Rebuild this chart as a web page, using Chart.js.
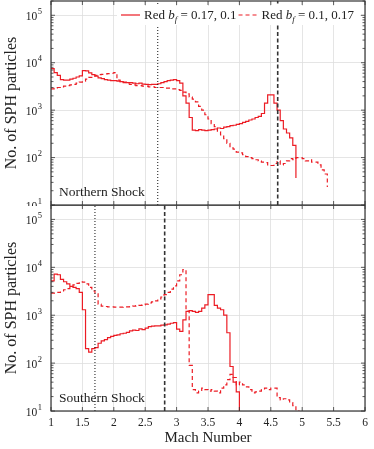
<!DOCTYPE html>
<html>
<head>
<meta charset="utf-8">
<script src="https://cdn.jsdelivr.net/npm/chart.js@4.4.0/dist/chart.umd.min.js"></script>
<style>
  body { margin: 0; background: #fff; }
  #wrap { position: relative; width: 374px; height: 449px; }
  .panel { position: absolute; left: 0; width: 374px; }
  #north { top: 0; height: 206px; }
  #south { top: 205px; height: 244px; }
</style>
</head>
<body>
<div id="wrap">
  <div class="panel" id="north"><canvas id="northChart"></canvas></div>
  <div class="panel" id="south"><canvas id="southChart"></canvas></div>
</div>
<script>
// left edges of the Mach number bins
const machEdges = [
  1.00, 1.05, 1.10, 1.15, 1.20, 1.25, 1.30, 1.35, 1.40, 1.45,
  1.50, 1.55, 1.60, 1.65, 1.70, 1.75, 1.80, 1.85, 1.90, 1.95,
  2.00, 2.05, 2.10, 2.15, 2.20, 2.25, 2.30, 2.35, 2.40, 2.45,
  2.50, 2.55, 2.60, 2.65, 2.70, 2.75, 2.80, 2.85, 2.90, 2.95,
  3.00, 3.05, 3.10, 3.15, 3.20, 3.25, 3.30, 3.35, 3.40, 3.45,
  3.50, 3.55, 3.60, 3.65, 3.70, 3.75, 3.80, 3.85, 3.90, 3.95,
  4.00, 4.05, 4.10, 4.15, 4.20, 4.25, 4.30, 4.35, 4.40, 4.45,
  4.50, 4.55, 4.60, 4.65, 4.70, 4.75, 4.80, 4.85, 4.90, 4.95,
  5.00, 5.05, 5.10, 5.15, 5.20, 5.25, 5.30, 5.35, 5.40, 5.45
];

// Northern shock, b_f = 0.17, 0.1 (solid)
const northSolid = [
  7500, 6200, 5400, 4400, 4300, 4300, 4500, 4700, 5000, 5300,
  6800, 6700, 6100, 5600, 5200, 4800, 4600, 4400, 4300, 4200,
  4200, 4100, 4000, 3900, 3800, 3800, 3700, 3600, 3700, 3550,
  3500, 3450, 3500, 3500, 3600, 3800, 4000, 4200, 4300, 4400,
  4200, 3700, 2000, 1400, 700, 380, 370, 390, 380, 370,
  380, 390, 400, 420, 410, 440, 450, 470, 480, 500,
  520, 550, 580, 620, 650, 700, 740, 850, 1400, 2100,
  2100, 1400, 1000, 600, 400, 330, 260, 180, 37
];

// Northern shock, b_f = 0.1, 0.17 (dashed)
const northDashed = [
  2800, 2900, 3000, 3100, 3200, 3300, 3400, 3500, 3700, 3900,
  4100, 4500, 4900, 5200, 5400, 5600, 5700, 5800, 5900, 6000,
  6200, 4300, 4000, 3800, 3600, 3500, 3400, 3300, 3300, 3200,
  3200, 3100, 3100, 3000, 3000, 3000, 2900, 2900, 2800, 2800,
  2700, 2600, 2400, 2200, 1900, 1700, 1500, 1200, 1000, 800,
  650, 520, 450, 350, 300, 250, 200, 160, 150, 130,
  125, 115, 105, 100, 95, 90, 85, 80, 78, 70,
  68, 75, 85, 70, 75, 85, 95, 90, 100, 100,
  95, 85, 90, 80, 80, 70, 55, 45, 24
];

// Southern shock, b_f = 0.17, 0.1 (solid)
const southSolid = [
  5200, 7200, 7000, 5600, 5000, 4500, 4000, 3800, 3600, 3000,
  1300, 200, 170, 200, 210, 260, 290, 310, 340, 360,
  380, 390, 410, 420, 440, 470, 490, 480, 520, 500,
  540, 580, 590, 600, 600, 620, 630, 650, 680, 700,
  510, 460, 800, 1200, 1250, 1200, 1150, 1200, 1400, 1650,
  2700, 2700, 1600, 1400, 1300, 1000, 430, 85, 40, 25,
  5
];

// Southern shock, b_f = 0.1, 0.17 (dashed)
const southDashed = [
  2900, 2900, 3000, 3200, 3400, 3600, 4000, 4300, 4600, 5000,
  4900, 4500, 3800, 3200, 2800, 1700, 1550, 1520, 1500, 1500,
  1480, 1480, 1480, 1500, 1500, 1520, 1550, 1580, 1600, 1650,
  1700, 1800, 1900, 2000, 2200, 2400, 2700, 3000, 3500, 4100,
  5200, 7000, 9000, 1200, 90, 28, 24, 26, 30, 28,
  26, 28, 26, 24, 30, 35, 45, 58, 50, 35,
  40, 35, 32, 28, 24, 25, 26, 28, 30, 28,
  30, 30, 19, 17, 18, 17, 15, 13, 10, 8
];

// reference Mach numbers (vertical lines)
const northMarks = { dotted: 2.7, dashed: 4.61 };
const southMarks = { dotted: 1.7, dashed: 2.81 };

const legendValues = ['0.17, 0.1', '0.1, 0.17'];
const yTicks = [10, 100, 1000, 10000, 100000];
const yExponents = ['1', '2', '3', '4', '5'];
const yMin = 10, yMax = 2e5;

const red = 'rgb(236, 28, 36)';
const serif = '"Liberation Serif", "DejaVu Serif", serif';

function toPoints(counts) {
    return counts.map((c, i) => ({ x: machEdges[i], y: c }));
}

function vline(x) {
    return [{ x: x, y: yMin }, { x: x, y: yMax }];
}

// frame, inside tick marks, 10^n labels, panel caption and (optionally) legend
const panelPlugin = {
    id: 'panel',
    afterDatasetsDraw(chart, args, opts) {
        const ctx = chart.ctx;
        const { left, right, top, bottom } = chart.chartArea;
        const xs = chart.scales.x, ys = chart.scales.y;
        ctx.save();
        ctx.strokeStyle = '#333';
        ctx.lineWidth = 0.8;
        ctx.beginPath();
        // major + minor y ticks on both sides
        yTicks.forEach(d => {
            for (let k = 1; k <= 9; k++) {
                const v = d * k;
                if (v > yMax) break;
                const py = ys.getPixelForValue(v);
                const len = k === 1 ? 4 : 2.5;
                ctx.moveTo(left, py); ctx.lineTo(left + len, py);
                ctx.moveTo(right, py); ctx.lineTo(right - len, py);
            }
        });
        // x ticks top and bottom
        xs.ticks.forEach(t => {
            const px = xs.getPixelForValue(t.value);
            ctx.moveTo(px, bottom); ctx.lineTo(px, bottom - 4);
            ctx.moveTo(px, top); ctx.lineTo(px, top + 4);
        });
        ctx.stroke();

        ctx.lineWidth = 1.2;
        ctx.strokeRect(left, top, right - left, bottom - top);

        // y tick labels as 10 with a raised exponent
        ctx.fillStyle = '#222';
        ctx.textAlign = 'right';
        ctx.textBaseline = 'alphabetic';
        ys.ticks.forEach(t => {
            const py = ys.getPixelForValue(t.value);
            const exp = yExponents[yTicks.indexOf(t.value)];
            ctx.font = '8.5px ' + serif;
            const ew = ctx.measureText(exp).width;
            ctx.fillText(exp, left - 9, py - 1.5);
            ctx.font = '11.5px ' + serif;
            ctx.fillText('10', left - 9.5 - ew, py + 4.5);
        });
        ctx.textAlign = 'left';

        ctx.font = '13.5px ' + serif;
        ctx.fillText(opts.caption, left + 8, bottom - 9.5);

        if (opts.legend) {
            ctx.fillStyle = '#fff';
            ctx.fillRect(117, top + 5, 243, 19);
            let x = 121;
            const y = top + 14;
            legendValues.forEach((val, i) => {
                x = drawLegendItem(ctx, x, y, i === 1, val) + 2;
            });
        }
        ctx.restore();
    }
};

function drawLegendItem(ctx, x, y, dashed, value) {
    ctx.save();
    ctx.strokeStyle = red;
    ctx.lineWidth = 1.2;
    ctx.setLineDash(dashed ? [4, 3] : []);
    ctx.beginPath();
    ctx.moveTo(x, y);
    ctx.lineTo(x + 19, y);
    ctx.stroke();
    ctx.restore();
    x += 23;
    ctx.fillStyle = '#222';
    ctx.textBaseline = 'alphabetic';
    ctx.font = '13px ' + serif;
    ctx.fillText('Red ', x, y + 4);
    x += ctx.measureText('Red ').width;
    ctx.font = 'italic 13px ' + serif;
    ctx.fillText('b', x, y + 4);
    x += ctx.measureText('b').width;
    ctx.font = 'italic 9px ' + serif;
    ctx.fillText('f', x, y + 6.5);
    x += ctx.measureText('f').width;
    ctx.font = '13px ' + serif;
    const rest = ' = ' + value;
    ctx.fillText(rest, x, y + 4);
    x += ctx.measureText(rest).width;
    return x;
}

function makePanel(canvasId, solid, dashed, marks, caption, isBottom) {
    const ctx = document.getElementById(canvasId).getContext('2d');
    return new Chart(ctx, {
        type: 'line',
        data: {
            datasets: [
                {
                    label: 'Red b_f = ' + legendValues[0],
                    data: toPoints(solid),
                    stepped: true,
                    borderColor: red,
                    borderWidth: 1.2,
                    pointRadius: 0,
                    fill: false,
                    order: 2
                },
                {
                    label: 'Red b_f = ' + legendValues[1],
                    data: toPoints(dashed),
                    stepped: true,
                    borderColor: red,
                    borderWidth: 1.2,
                    borderDash: [4, 3],
                    pointRadius: 0,
                    fill: false,
                    order: 3
                },
                {
                    label: 'dotted',
                    data: vline(marks.dotted),
                    borderColor: '#111',
                    borderWidth: 1,
                    borderDash: [1, 2],
                    pointRadius: 0,
                    order: 1
                },
                {
                    label: 'dashed',
                    data: vline(marks.dashed),
                    borderColor: '#333',
                    borderWidth: 1.6,
                    borderDash: [4, 2.5],
                    pointRadius: 0,
                    order: 1
                }
            ]
        },
        options: {
            responsive: true,
            maintainAspectRatio: false,
            animation: false,
            layout: {
                padding: { top: isBottom ? 0 : 1, right: 9, bottom: isBottom ? 0 : 1, left: 0 }
            },
            scales: {
                x: {
                    type: 'linear',
                    min: 1,
                    max: 6,
                    border: { display: false },
                    grid: { color: '#dedede', lineWidth: 0.8, drawTicks: false },
                    ticks: {
                        display: isBottom,
                        stepSize: 0.5,
                        padding: 5,
                        color: '#222',
                        font: { family: serif, size: 11.5 },
                        callback: v => String(v)
                    },
                    title: {
                        display: isBottom,
                        text: 'Mach Number',
                        color: '#222',
                        font: { family: serif, size: 15 },
                        padding: { top: 0, bottom: 2 }
                    },
                    afterFit: s => {
                        s.height = isBottom ? 38 : 0;
                        s.paddingLeft = 0; s.paddingRight = 0;
                    }
                },
                y: {
                    type: 'logarithmic',
                    min: yMin,
                    max: yMax,
                    border: { display: false },
                    grid: { color: '#dedede', lineWidth: 0.8, drawTicks: false },
                    afterBuildTicks: s => { s.ticks = yTicks.map(v => ({ value: v })); },
                    ticks: { display: false },
                    title: {
                        display: true,
                        text: 'No. of SPH particles',
                        color: '#222',
                        font: { family: serif, size: 16 },
                        padding: { top: 2.5, bottom: 0 }
                    },
                    afterFit: s => {
                        s.width = 51;
                        s.paddingTop = 0; s.paddingBottom = 0;
                    }
                }
            },
            plugins: {
                legend: { display: false },
                tooltip: { enabled: false },
                panel: { caption: caption, legend: !isBottom }
            }
        },
        plugins: [panelPlugin]
    });
}

document.addEventListener('DOMContentLoaded', () => {
    makePanel('northChart', northSolid, northDashed, northMarks, 'Northern Shock', false);
    makePanel('southChart', southSolid, southDashed, southMarks, 'Southern Shock', true);
});
</script>
</body>
</html>
